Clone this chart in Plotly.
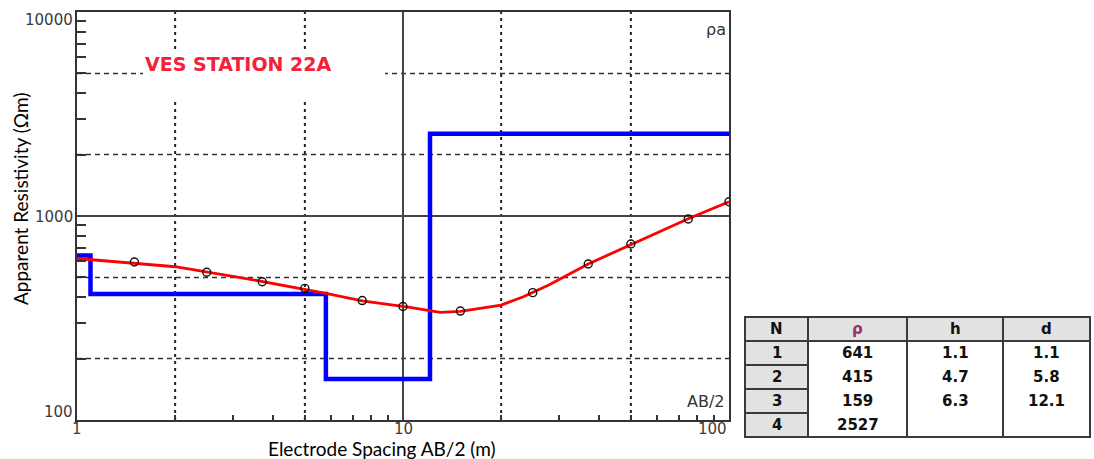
import math
import plotly.graph_objects as go

# ---------------- data ----------------
# observed apparent resistivity (field points)
ab2_obs = [1.5, 2.5, 3.7, 5, 7.5, 10, 15, 25, 37, 50, 75, 100]
rho_obs = [595, 530, 476, 442, 385, 360, 342, 421, 582, 729, 967, 1175]

# computed (model) curve
ab2_calc = [1, 2, 3.2, 5.1, 5.8, 7.5, 9.1, 10.5, 12.2, 13, 15, 20, 23.4, 28, 37, 50, 75, 100]
rho_calc = [619, 564, 498, 437, 418, 384, 369, 357, 343, 337, 341, 366, 402, 459, 582, 721, 970, 1175]

# layered model
layer_n = [1, 2, 3, 4]
layer_rho = [641, 415, 159, 2527]
layer_h = [1.1, 4.7, 6.3, None]
layer_d = [1.1, 5.8, 12.1, None]
table_header = ["N", "ρ", "h", "d"]

x_tick_vals = [1, 10, 100]
x_tick_text = ["1", "10", "100"]
y_tick_vals = [100, 1000, 10000]
y_tick_text = ["100", "1000", "10000"]

x_minor = [v * m for m in (1, 10) for v in (2, 3, 4, 5, 6, 7, 8, 9)]
y_minor = [v * m for m in (100, 1000) for v in (2, 3, 4, 5, 6, 7, 8, 9)]
x_dot_grid = [2, 5, 20, 50]
y_dash_grid = [200, 500, 2000, 5000]

title_text = "VES STATION 22A"

# ---------------- geometry ----------------
W, H = 1094, 459
PL, PR, PT, PB = 77, 729, 12, 420
TAB_COLS = [745, 808, 907, 1003, 1090]
TAB_TOP, TAB_ROW = 317, 24


def px(v):
    return v / W


def py(v):
    return 1 - v / H


# step model line
edges = [x_tick_vals[0]] + [d for d in layer_d if d is not None] + [x_tick_vals[-1]]
step_x, step_y = [], []
for i, r in enumerate(layer_rho):
    step_x += [edges[i], edges[i + 1]]
    step_y += [r, r]

fig = go.Figure()

fig.add_trace(go.Scatter(x=step_x, y=step_y, mode="lines",
                         line=dict(color="#0000ff", width=4.5), hoverinfo="skip"))
fig.add_trace(go.Scatter(x=ab2_calc, y=rho_calc, mode="lines",
                         line=dict(color="#ff0000", width=2.8), hoverinfo="skip"))
fig.add_trace(go.Scatter(x=ab2_obs, y=rho_obs, mode="markers",
                         marker=dict(symbol="circle-open", size=8, color="#111",
                                     line=dict(width=1.4, color="#111"))))


def fmt(v):
    return "" if v is None else f"{v:.1f}"


shapes = []
for v in x_dot_grid:
    shapes.append(dict(type="line", xref="x", yref="y domain", x0=v, x1=v,
                       y0=0, y1=1, layer="below", line=dict(color="#222", width=2, dash="3px,4px")))
for v in y_dash_grid:
    shapes.append(dict(type="line", xref="x domain", yref="y", x0=0, x1=1,
                       y0=v, y1=v, layer="below",
                       line=dict(color="#333", width=1.5, dash="5px,4px")))
# white box behind the station title
shapes.append(dict(type="rect", xref="x", yref="y", x0=10 ** 0.2025, x1=10 ** 0.9448,
                   y0=10 ** 3.559, y1=10 ** 3.799,
                   fillcolor="white", line=dict(width=0), layer="below"))

annotations = []

# ---------------- table (drawn with shapes + text) ----------------
n_rows = len(layer_n) + 1
tab_bottom = TAB_TOP + n_rows * TAB_ROW
gray = "#e2e2e2"
edge = "#3a3a3a"
shapes.append(dict(type="rect", xref="paper", yref="paper",
                   x0=px(TAB_COLS[0]), x1=px(TAB_COLS[-1]), y0=py(TAB_TOP + TAB_ROW), y1=py(TAB_TOP),
                   fillcolor=gray, line=dict(color=edge, width=2)))
for c in range(1, 4):
    shapes.append(dict(type="line", xref="paper", yref="paper",
                       x0=px(TAB_COLS[c]), x1=px(TAB_COLS[c]), y0=py(tab_bottom), y1=py(TAB_TOP),
                       line=dict(color=edge, width=2)))
for r in range(1, n_rows):
    shapes.append(dict(type="rect", xref="paper", yref="paper",
                       x0=px(TAB_COLS[0]), x1=px(TAB_COLS[1]),
                       y0=py(TAB_TOP + (r + 1) * TAB_ROW), y1=py(TAB_TOP + r * TAB_ROW),
                       fillcolor=gray, line=dict(color=edge, width=2)))
shapes.append(dict(type="rect", xref="paper", yref="paper",
                   x0=px(TAB_COLS[0]), x1=px(TAB_COLS[-1]), y0=py(tab_bottom), y1=py(TAB_TOP),
                   fillcolor="rgba(0,0,0,0)", line=dict(color=edge, width=2)))

tab_font = dict(family="DejaVu Sans", size=15, color="#111", weight="bold")
columns = [[str(n) for n in layer_n], [str(r) for r in layer_rho],
           [fmt(h) for h in layer_h], [fmt(d) for d in layer_d]]
for c in range(4):
    xc = (TAB_COLS[c] + TAB_COLS[c + 1]) / 2
    hcol = "#9a3070" if c == 1 else "#111"
    annotations.append(dict(text=table_header[c], xref="paper", yref="paper", x=px(xc),
                            y=py(TAB_TOP + TAB_ROW / 2), xanchor="center", yanchor="middle",
                            showarrow=False, font=dict(tab_font, color=hcol)))
    for r, val in enumerate(columns[c]):
        if val == "":
            continue
        annotations.append(dict(text=val, xref="paper", yref="paper", x=px(xc),
                                y=py(TAB_TOP + (r + 1.5) * TAB_ROW), xanchor="center",
                                yanchor="middle", showarrow=False, font=tab_font))

# ---------------- axis labels ----------------
tick_font = dict(family="DejaVu Sans", size=15, color="#3a3a3a")
y_shift = {100: 8, 1000: -1, 10000: -8}
for v, t in zip(y_tick_vals, y_tick_text):
    annotations.append(dict(text=t, xref="paper", x=px(75), xanchor="right",
                            yref="y", y=math.log10(v), yanchor="middle", yshift=y_shift[v],
                            showarrow=False, font=tick_font))
for v, t in zip(x_tick_vals, x_tick_text):
    anchor = "right" if v == x_tick_vals[-1] else "center"
    annotations.append(dict(text=t, xref="x", x=math.log10(v), xanchor=anchor,
                            yref="paper", y=py(428.5), yanchor="middle",
                            showarrow=False, font=tick_font))
annotations += [
    dict(text=title_text, xref="paper", x=px(143), xanchor="left", yref="paper", y=py(64),
         yanchor="middle", showarrow=False,
         font=dict(family="DejaVu Sans", size=19, color="#f5203a", weight="bold")),
    dict(text="ρa", xref="paper", x=px(728), xanchor="right", yref="paper", y=py(30),
         yanchor="middle", showarrow=False, font=dict(family="DejaVu Sans", size=16, color="#333")),
    dict(text="AB/2", xref="paper", x=px(727), xanchor="right", yref="paper", y=py(401),
         yanchor="middle", showarrow=False, font=dict(family="DejaVu Sans", size=16, color="#333")),
    dict(text="Electrode Spacing AB/2 (m)", xref="paper", x=px(382), xanchor="center",
         yref="paper", y=py(448), yanchor="middle", showarrow=False,
         font=dict(family="Lato", size=19, color="#000")),
    dict(text="Apparent Resistivity (Ωm)", xref="paper", x=px(21), xanchor="center",
         yref="paper", y=py(199), yanchor="middle", showarrow=False, textangle=-90,
         font=dict(family="Lato", size=19, color="#000")),
]

fig.update_layout(
    width=W, height=H, margin=dict(l=0, r=0, t=0, b=0),
    paper_bgcolor="white", plot_bgcolor="white", showlegend=False,
    shapes=shapes, annotations=annotations,
    xaxis=dict(type="log", range=[0, 2], domain=[px(PL), px(PR)],
               tickmode="array", tickvals=x_tick_vals, showticklabels=False,
               ticks="", showgrid=True, gridcolor="#444", gridwidth=1.5, zeroline=False,
               showline=True, linecolor="#333", linewidth=2, mirror=True,
               minor=dict(tickvals=x_minor, ticks="inside", ticklen=5, tickcolor="#333",
                          tickwidth=1.5, showgrid=False)),
    yaxis=dict(type="log", range=[2, 4], domain=[py(PB), py(PT)],
               tickmode="array", tickvals=y_tick_vals, showticklabels=False,
               ticks="", showgrid=True, gridcolor="#444", gridwidth=1.5, zeroline=False,
               showline=True, linecolor="#333", linewidth=2, mirror=True,
               minor=dict(tickvals=y_minor, ticks="inside", ticklen=9, tickcolor="#333",
                          tickwidth=1.5, showgrid=False)),
)

fig.write_html("out.html", config={"displayModeBar": False},
               post_script="document.body.style.margin='0';")
